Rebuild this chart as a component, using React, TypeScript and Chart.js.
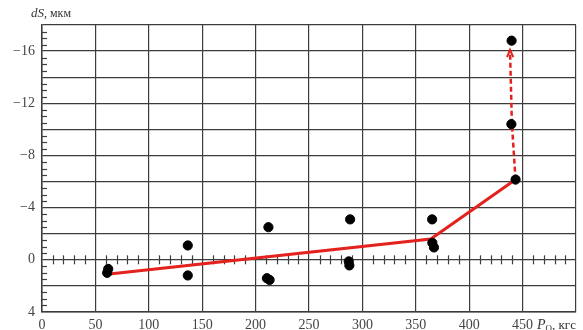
import React, { useEffect, useRef } from "react";
import { Chart, registerables } from "chart.js";

Chart.register(...registerables);

const dotsX = [61, 62, 136.5, 136.5, 212, 210.6, 213.1, 288.5, 287.2, 287.8, 365.3, 365.5, 367, 443.4, 439.5, 439.7];
const dotsY = [1.0, 0.7, -1.1, 1.2, -2.5, 1.41, 1.54, -3.1, 0.12, 0.43, -3.1, -1.3, -0.95, -6.15, -10.4, -16.8];

const lineX = [61, 364, 443.4];
const lineY = [1.1, -1.6, -6.15];

const dashX = [443.4, 440, 438.2];
const dashY = [-6.15, -10.4, -16.1];

const xTickLabels = ["0", "50", "100", "150", "200", "250", "300", "350", "400", "450", ""];
const yLabelValues = [-16, -12, -8, -4, 0, 4];

const SERIF = "'Liberation Serif', 'Times New Roman', serif";
const GRID = "#3c3c3c";
const RED = "#e3221e";

const overlay = {
  id: "overlay",
  beforeDatasetsDraw(chart: any) {
    const ctx = chart.ctx;
    const xs = chart.scales.x;
    const ys = chart.scales.y;
    const area = chart.chartArea;
    ctx.save();
    ctx.strokeStyle = GRID;
    ctx.lineWidth = 1.2;
    // y minor ticks on left edge
    for (let i = -36; i <= 8; i++) {
      const v = i * 0.5;
      if (i % 4 === 0) continue;
      const py = Math.round(ys.getPixelForValue(v)) + 0.5;
      if (py < area.top || py > area.bottom) continue;
      ctx.beginPath();
      ctx.moveTo(area.left, py);
      ctx.lineTo(area.left + 5, py);
      ctx.stroke();
    }
    // x cross ticks on zero line
    const y0 = ys.getPixelForValue(0);
    for (let v = 10; v < 500; v += 10) {
      if (v % 50 === 0) continue;
      const px = Math.round(xs.getPixelForValue(v)) + 0.5;
      ctx.beginPath();
      ctx.moveTo(px, y0 - 4.5);
      ctx.lineTo(px, y0 + 4.5);
      ctx.stroke();
    }
    ctx.restore();
  },
  afterDraw(chart: any) {
    const ctx = chart.ctx;
    const xs = chart.scales.x;
    const ys = chart.scales.y;
    ctx.save();
    // arrowhead at top of dashed line
    const n = dashX.length;
    const tx = xs.getPixelForValue(dashX[n - 1]);
    const ty = ys.getPixelForValue(dashY[n - 1]);
    const fx = xs.getPixelForValue(dashX[n - 2]);
    const fy = ys.getPixelForValue(dashY[n - 2]);
    const ang = Math.atan2(ty - fy, tx - fx);
    ctx.strokeStyle = RED;
    ctx.fillStyle = RED;
    ctx.lineWidth = 2;
    ctx.beginPath();
    ctx.moveTo(tx - 8 * Math.cos(ang - 0.4), ty - 8 * Math.sin(ang - 0.4));
    ctx.lineTo(tx, ty);
    ctx.lineTo(tx - 8 * Math.cos(ang + 0.4), ty - 8 * Math.sin(ang + 0.4));
    ctx.stroke();
    // y title
    ctx.fillStyle = "#333";
    ctx.textBaseline = "alphabetic";
    ctx.textAlign = "left";
    ctx.font = "italic 13px " + SERIF;
    ctx.fillText("dS", 31, 17);
    const w = ctx.measureText("dS").width;
    ctx.font = "12px " + SERIF;
    ctx.fillText(", мкм", 31 + w, 17);
    // x title
    const x0 = 537;
    const by = 329;
    ctx.font = "italic 14px " + SERIF;
    ctx.fillText("P", x0, by);
    const pw = ctx.measureText("P").width;
    ctx.font = "9px " + SERIF;
    ctx.fillText("O", x0 + pw, by + 2);
    const ow = ctx.measureText("O").width;
    ctx.font = "13px " + SERIF;
    ctx.fillText(", кгс", x0 + pw + ow, by);
    ctx.restore();
  },
};

export default function App() {
  const ref = useRef<HTMLCanvasElement | null>(null);
  useEffect(() => {
    document.body.style.margin = "0";
    const chart = new Chart(ref.current as HTMLCanvasElement, {
      type: "scatter",
      data: {
        datasets: [
          {
            label: "points",
            data: dotsX.map((x, i) => ({ x, y: dotsY[i] })),
            backgroundColor: "#000",
            borderColor: "#000",
            pointRadius: 4.6,
            showLine: false,
          },
          {
            label: "line",
            data: lineX.map((x, i) => ({ x, y: lineY[i] })),
            borderColor: RED,
            borderWidth: 3,
            pointRadius: 0,
            showLine: true,
          },
          {
            label: "dash",
            data: dashX.map((x, i) => ({ x, y: dashY[i] })),
            borderColor: RED,
            borderWidth: 2.5,
            borderDash: [5, 3],
            pointRadius: 0,
            showLine: true,
          },
        ] as any,
      },
      options: {
        animation: false,
        responsive: false,
        layout: { padding: { top: 25, right: 7, left: 0, bottom: 0 } },
        plugins: { legend: { display: false }, tooltip: { enabled: false } },
        scales: {
          x: {
            type: "linear",
            min: 0,
            max: 500,
            afterFit: (s: any) => {
              s.height = 18;
            },
            ticks: {
              stepSize: 50,
              padding: 5,
              maxRotation: 0,
              autoSkip: false,
              color: "#444",
              font: { family: SERIF, size: 14 },
              callback: (v: any) => xTickLabels[Math.round(Number(v) / 50)] ?? "",
            },
            grid: { color: GRID, lineWidth: 1.2, drawTicks: false },
            border: { display: true, color: GRID, width: 1.5 },
          },
          y: {
            type: "linear",
            min: -18,
            max: 4,
            reverse: true,
            afterFit: (s: any) => {
              s.width = 42;
            },
            ticks: {
              stepSize: 2,
              padding: 7,
              autoSkip: false,
              color: "#444",
              font: { family: SERIF, size: 14 },
              callback: (v: any) => {
                const n = Number(v);
                if (!yLabelValues.includes(n)) return "";
                return n < 0 ? "\u2212" + Math.abs(n) : String(n);
              },
            },
            grid: { color: GRID, lineWidth: 1.2, drawTicks: false },
            border: { display: true, color: GRID, width: 1.5 },
          },
        },
      } as any,
      plugins: [overlay],
    });
    return () => chart.destroy();
  }, []);
  return (
    <div style={{ width: 583, height: 330 }}>
      <canvas ref={ref} width={583} height={330} />
    </div>
  );
}
